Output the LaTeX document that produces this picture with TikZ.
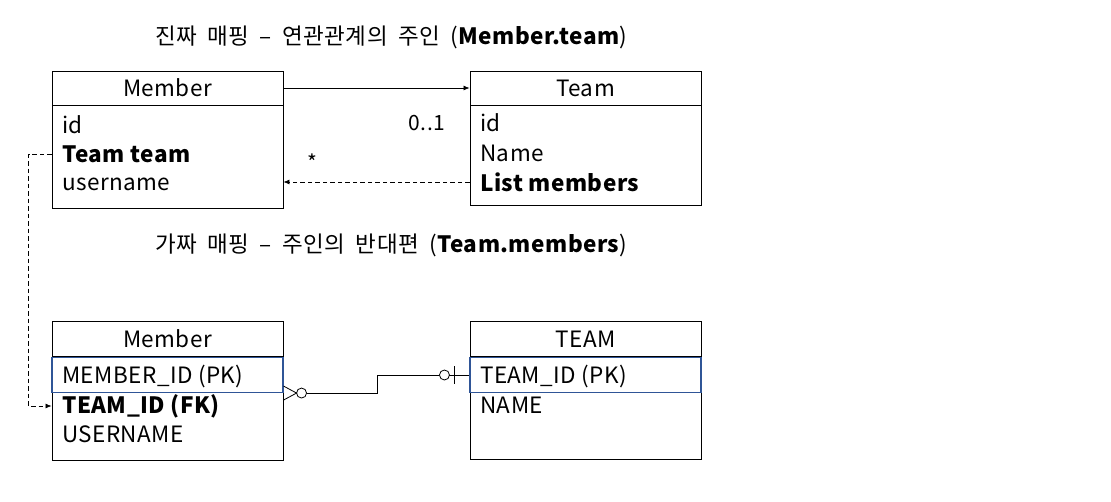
\documentclass[tikz,border=0pt]{standalone}
\usepackage{fontspec}
\setmainfont{Noto Sans CJK KR}[LetterSpace=2.0]
\usepackage{tikz}
\usetikzlibrary{arrows.meta,positioning,calc}
\definecolor{pkblue}{RGB}{47,85,151}
\newcommand{\umlfont}{\fontsize{22.5}{26}\selectfont}
\newcommand{\headfont}{\umlfont\spaceskip=10.5pt\relax}
\tikzset{
  clshead/.style={draw, line width=0.9pt, minimum width=231, minimum height=34, inner sep=0pt, font=\umlfont},
  clsbody/.style={draw, line width=0.9pt, minimum width=231, inner sep=0pt},
  pkrow/.style={draw=pkblue, line width=1.1pt, minimum width=231, minimum height=35, inner sep=0pt},
  attr/.style={anchor=west, inner sep=0pt, font=\umlfont},
  mult/.style={inner sep=0pt, font=\fontsize{21}{24}\selectfont},
  heading/.style={anchor=west, inner sep=0pt, font=\headfont},
  assoc/.style={-{Latex[length=6pt,width=5pt]}, line width=0.7pt},
  depend/.style={-{Latex[length=6pt,width=5pt]}, line width=0.7pt, dash pattern=on 4.5pt off 3pt},
  erline/.style={line width=0.8pt}
}
\begin{document}
\begin{tikzpicture}[x=1pt, y=-1pt]
\useasboundingbox (0,0) rectangle (1111,501);

% headings
\node[heading] (real) at (155,37) {진짜 매핑 – 연관관계의 주인 (\textbf{Member.team})};
\node[heading] (fake) at (155,245) {가짜 매핑 – 주인의 반대편 (\textbf{Team.members})};

% object model
\node[clshead] (memh) at (167.5,88) {Member};
\node[clsbody, minimum height=103, below=0pt of memh] (memb) {};
\node[attr] (memid) at (62,125) {id};
\node[attr] (memteam) at (62,154) {\textbf{Team team}};
\node[attr] (memname) at (62,184) {username};

\node[clshead] (teamh) at (585.5,88) {Team};
\node[clsbody, minimum height=100, below=0pt of teamh] (teamb) {};
\node[attr] (teamid) at (480,123) {id};
\node[attr] (teamname) at (480,153) {Name};
\node[attr] (teamlist) at (480,182) {\textbf{List members}};

\node[mult] (one) at (427,123) {0..1};
\node[mult] (many) at (312,162) {*};

\draw[assoc] (memh.east) -- (teamh.west);
\draw[depend] (teamb.west |- teamlist) -- (memb.east |- teamlist);

% table model
\node[clshead, minimum height=35] (erm) at (167.5,339) {Member};
\node[clsbody, minimum height=103, below=0pt of erm] (ermb) {};
\node[pkrow, below=0pt of erm] (ermpk) {};
\node[attr] (ermid) at (62,376) {MEMBER\_ID (PK)};
\node[attr] (ermfk) at (62,406) {\textbf{TEAM\_ID (FK)}};
\node[attr] (ermname) at (62,434) {USERNAME};

\node[clshead, minimum height=35] (ert) at (585.5,339) {TEAM};
\node[clsbody, minimum height=102, below=0pt of ert] (ertb) {};
\node[pkrow, below=0pt of ert] (ertpk) {};
\node[attr] (ertid) at (480,376) {TEAM\_ID (PK)};
\node[attr] (ertname) at (480,405) {NAME};

\draw[depend] (memb.west |- memteam) -- ++(-23,0) |- (ermb.west |- ermfk);

% crow's foot relation
\coordinate (fkend) at (ermpk.south east);
\coordinate (pkend) at (ertpk.west);
\draw[erline] ($(fkend)+(0,-7)$) -- ($(fkend)+(13,0)$) -- ($(fkend)+(0,7)$);
\draw[erline] ($(fkend)+(18,0)$) circle[radius=5];
\draw[erline] ($(fkend)+(23,0)$) -- ++(71,0) |- ($(pkend)+(-30,0)$);
\draw[erline] ($(pkend)+(-25,0)$) circle[radius=5];
\draw[erline] ($(pkend)+(-20,0)$) -- (pkend);
\draw[erline] ($(pkend)+(-15,-9)$) -- ($(pkend)+(-15,9)$);
\end{tikzpicture}
\end{document}
